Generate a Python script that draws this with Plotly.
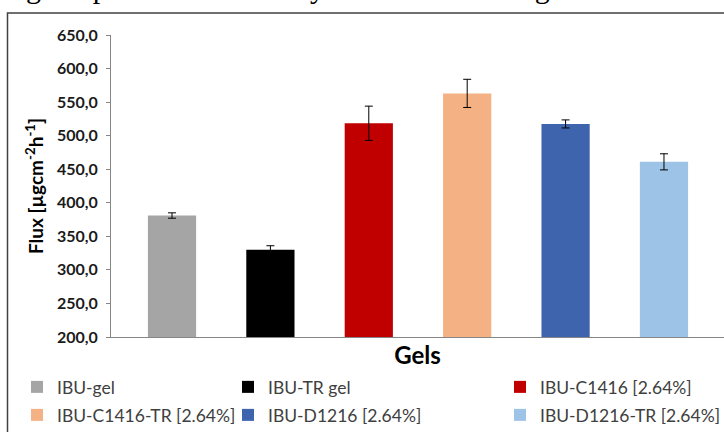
import plotly.graph_objects as go

categories = ["IBU-gel", "IBU-TR gel", "IBU-C1416 [2.64%]",
              "IBU-C1416-TR [2.64%]", "IBU-D1216 [2.64%]", "IBU-D1216-TR [2.64%]"]
flux = [381.0, 330.0, 518.5, 563.0, 517.5, 461.0]
errors = [4.0, 6.0, 25.5, 21.0, 6.0, 12.0]
colors = ["#A5A5A5", "#000000", "#C00000", "#F4B183", "#3E64AE", "#9DC3E6"]
y_ticks = [200, 250, 300, 350, 400, 450, 500, 550, 600, 650]
caption = "g the pattern of the study. All data of used gels and Co"

W, H = 724, 432
L, T, B = 111, 35, 95
PW = W - L
PH = H - T - B

# legend text start (px) and row centre (px) for each entry
legend_x = [57, 268, 540, 57, 268, 540]
legend_y = [387, 387, 387, 415, 415, 415]

fig = go.Figure()
legend_layouts = {}
for i, (c, v, e, col) in enumerate(zip(categories, flux, errors, colors)):
    lname = "legend" if i == 0 else f"legend{i + 1}"
    fig.add_trace(go.Bar(
        x=[c], y=[v], name=c, width=0.49,
        marker=dict(color=col, line=dict(width=0)),
        error_y=dict(type="data", array=[e], color="#000000", thickness=1, width=4),
        legend=lname,
    ))
    legend_layouts[lname] = dict(
        orientation="h", x=(legend_x[i] - 40 - L) / PW, y=(H - B - legend_y[i]) / PH,
        xanchor="left", yanchor="middle", xref="paper", yref="paper",
        font=dict(size=17.5, color="#404040"), bgcolor="rgba(0,0,0,0)",
        itemclick=False, itemdoubleclick=False,
    )

def px_x(p):
    return (p - L) / PW

def px_y(p):
    return (H - B - p) / PH

fig.update_layout(
    width=W, height=H,
    margin=dict(l=L, r=0, t=T, b=B, autoexpand=False),
    paper_bgcolor="white", plot_bgcolor="white",
    barmode="overlay",
    separators=",.",
    showlegend=True,
    font=dict(family="Lato, Calibri, sans-serif", color="#404040"),
    xaxis=dict(
        type="category", categoryorder="array", categoryarray=categories,
        range=[-0.62, 5.61], showticklabels=False, ticks="",
        showline=True, linecolor="#868686", linewidth=1, showgrid=False, zeroline=False,
        title=dict(text="<b>Gels</b>", font=dict(size=24, color="#000000"), standoff=10),
    ),
    yaxis=dict(
        range=[200, 650], tickvals=y_ticks, tickformat=".1f",
        showline=True, linecolor="#868686", linewidth=1,
        ticks="outside", ticklen=4, tickcolor="#868686", ticklabelstandoff=5,
        showgrid=False, zeroline=False,
        tickfont=dict(size=16, color="#1a1a1a", weight="bold"),
        title=dict(text="<b>Flux [µgcm<sup>-2</sup>h<sup>-1</sup>]</b>",
                   font=dict(size=19, color="#000000"), standoff=8),
    ),
    shapes=[dict(type="rect", xref="paper", yref="paper",
                 x0=px_x(7.5), x1=px_x(740), y0=px_y(450), y1=px_y(13),
                 line=dict(color="#404040", width=1.5), fillcolor="rgba(0,0,0,0)", layer="below")],
    annotations=[dict(text=caption,
                      xref="paper", yref="paper", x=px_x(24), y=px_y(-31),
                      xanchor="left", yanchor="top", showarrow=False,
                      font=dict(family="Liberation Serif, Times New Roman, serif", size=30, color="#000000"))],
    **legend_layouts,
)

fig.write_html("out.html", config={"displayModeBar": False},
               post_script="document.body.style.margin='0';document.body.style.overflow='hidden';")
